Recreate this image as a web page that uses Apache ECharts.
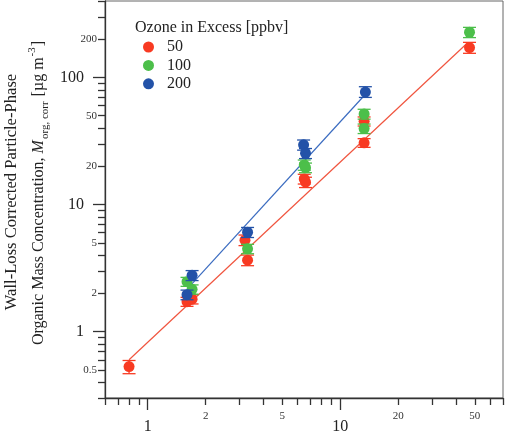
<!DOCTYPE html>
<html lang="en">
<head>
<meta charset="UTF-8">
<title>Morg vs ozone</title>
<script src="https://cdn.jsdelivr.net/npm/echarts@6/dist/echarts.min.js"></script>
<style>
  html, body { margin: 0; padding: 0; background: #fff; }
  #main { width: 523px; height: 446px; }
</style>
</head>
<body>
<div id="main"></div>
<script>
// ozone 50 ppbv
const redX = [0.8, 1.6, 1.7, 3.2, 3.3, 6.5, 6.6, 13.3, 13.3, 46.9];
const redY = [0.53, 1.72, 1.80, 5.24, 3.65, 15.9, 15.0, 30.6, 45.2, 172];
const redLo = [0.466, 1.58, 1.65, 4.75, 3.3, 14.5, 13.6, 28.2, 41.5, 155];
const redHi = [0.592, 1.86, 1.95, 5.75, 4.0, 17.3, 16.4, 33.0, 48.9, 189];
// ozone 100 ppbv
const greenX = [1.6, 1.7, 3.3, 6.5, 6.6, 13.3, 13.3, 46.9];
const greenY = [2.47, 2.15, 4.48, 20.5, 19.5, 51.6, 39.6, 227];
const greenLo = [2.27, 1.97, 4.1, 18.6, 17.8, 47.0, 36.2, 206];
const greenHi = [2.67, 2.33, 4.86, 22.4, 21.2, 56.2, 43.0, 248];
// ozone 200 ppbv
const blueX = [1.6, 1.7, 3.3, 6.45, 6.6, 13.5];
const blueY = [1.95, 2.77, 6.05, 29.5, 25.3, 76.8];
const blueLo = [1.78, 2.52, 5.5, 26.8, 23.0, 69.7];
const blueHi = [2.12, 3.02, 6.6, 32.2, 27.6, 84.6];
// fitted lines (end points)
const redFit = [[0.8, 0.6], [45.6, 186]];
const blueFit = [[1.615, 2.19], [13.4, 72.8]];

const xMinorTicks = [0.6, 0.7, 0.8, 0.9, 2, 3, 4, 5, 6, 7, 8, 9, 20, 30, 40, 50, 60, 70];
const xMinorLabels = [2, 5, 20, 50];
const xMajor = [1, 10];
const yMinorTicks = [0.3, 0.4, 0.5, 0.6, 0.7, 0.8, 0.9, 2, 3, 4, 5, 6, 7, 8, 9,
  20, 30, 40, 50, 60, 70, 80, 90, 200, 300, 400];
const yMinorLabels = [0.5, 2, 5, 20, 50, 200];
const yMajor = [1, 10, 100];

const RED = '#f83a22', GREEN = '#4cbf4a', BLUE = '#2352a8';
const serif = 'Liberation Serif';

function pts(xs, ys) {
  return xs.map(function (x, i) { return [x, ys[i]]; });
}
function errData(xs, lo, hi) {
  return xs.map(function (x, i) { return [x, lo[i], hi[i]]; });
}
function errSeries(xs, lo, hi, color, z) {
  return {
    type: 'custom',
    z: z,
    silent: true,
    data: errData(xs, lo, hi),
    renderItem: function (params, api) {
      const top = api.coord([api.value(0), api.value(2)]);
      const bot = api.coord([api.value(0), api.value(1)]);
      const w = 6.5;
      const st = { stroke: color, lineWidth: 1.3 };
      return {
        type: 'group',
        children: [
          { type: 'line', shape: { x1: top[0], y1: top[1], x2: bot[0], y2: bot[1] }, style: st },
          { type: 'line', shape: { x1: top[0] - w, y1: top[1], x2: top[0] + w, y2: top[1] }, style: st },
          { type: 'line', shape: { x1: bot[0] - w, y1: bot[1], x2: bot[0] + w, y2: bot[1] }, style: st }
        ]
      };
    }
  };
}
function scatter(name, xs, ys, color, z) {
  return {
    name: name, type: 'scatter', z: z, symbol: 'circle', symbolSize: 11,
    itemStyle: { color: color, opacity: 1 },
    data: pts(xs, ys)
  };
}

const axisCommon = { type: 'log', logBase: 10, splitLine: { show: false } };
const lineSt = { color: '#333', width: 1.3 };

const chart = echarts.init(document.getElementById('main'));
chart.setOption({
  animation: false,
  grid: { left: 105, right: 20, top: 1, bottom: 48, show: true, borderColor: '#666', borderWidth: 1 },
  title: {
    text: 'Ozone in Excess [ppbv]', left: 130, top: 15,
    textStyle: { fontFamily: serif, fontSize: 16, fontWeight: 'normal', color: '#222' }
  },
  legend: {
    orient: 'vertical', left: 138, top: 34, itemWidth: 11, itemHeight: 11, itemGap: 2.4,
    icon: 'circle', data: ['50', '100', '200'],
    textStyle: { fontFamily: serif, fontSize: 16, color: '#222', padding: [0, 0, 0, 8] }
  },
  xAxis: [
    Object.assign({}, axisCommon, {
      min: 0.6, max: 70,
      axisLine: { show: true, lineStyle: lineSt },
      axisTick: { show: true, length: 7, lineStyle: lineSt, customValues: xMinorTicks },
      axisLabel: { customValues: xMinorLabels, fontFamily: serif, fontSize: 11, color: '#333', margin: 13 }
    }),
    Object.assign({}, axisCommon, {
      min: 0.6, max: 70, position: 'bottom',
      axisLine: { show: false },
      axisTick: { show: true, length: 12, lineStyle: lineSt, customValues: xMajor },
      axisLabel: { customValues: xMajor, fontFamily: serif, fontSize: 16, color: '#222', margin: 21 }
    })
  ],
  yAxis: [
    Object.assign({}, axisCommon, {
      min: 0.3, max: 400,
      axisLine: { show: true, lineStyle: lineSt },
      axisTick: { show: true, length: 7, lineStyle: lineSt, customValues: yMinorTicks },
      axisLabel: { customValues: yMinorLabels, fontFamily: serif, fontSize: 11, color: '#333', margin: 8 }
    }),
    Object.assign({}, axisCommon, {
      min: 0.3, max: 400, position: 'left',
      axisLine: { show: false },
      axisTick: { show: true, length: 12, lineStyle: lineSt, customValues: yMajor },
      axisLabel: { customValues: yMajor, fontFamily: serif, fontSize: 16, color: '#222', margin: 21 }
    })
  ],
  graphic: [
    {
      type: 'text', rotation: Math.PI / 2,
      x: 12, y: 192,
      style: {
        text: 'Wall-Loss Corrected Particle-Phase',
        font: '16.6px "Liberation Serif"', fill: '#222', align: 'center', verticalAlign: 'middle'
      }
    },
    {
      type: 'text', rotation: Math.PI / 2,
      x: 39, y: 193,
      style: {
        text: 'Organic Mass Concentration, {i|M}{sub|org, corr} [µg m{sup|-3}]',
        font: '16px "Liberation Serif"', fill: '#222', align: 'center', verticalAlign: 'middle',
        lineHeight: 24,
        rich: {
          i: { fontFamily: serif, fontSize: 16, fontStyle: 'italic', fill: '#222', lineHeight: 24 },
          sub: { fontFamily: serif, fontSize: 11, fill: '#222', verticalAlign: 'bottom', lineHeight: 15, padding: [0, 1, 0, 1] },
          sup: { fontFamily: serif, fontSize: 11, fill: '#222', verticalAlign: 'top', lineHeight: 9, padding: [0, 1, 0, 1] }
        }
      }
    }
  ],
  series: [
    { type: 'line', data: redFit, symbol: 'none', z: 1, silent: true, lineStyle: { color: '#f0553f', width: 1.2 } },
    { type: 'line', data: blueFit, symbol: 'none', z: 1, silent: true, lineStyle: { color: '#3b6cc0', width: 1.2 } },
    errSeries(redX, redLo, redHi, RED, 2),
    scatter('50', redX, redY, RED, 3),
    errSeries(greenX, greenLo, greenHi, GREEN, 4),
    scatter('100', greenX, greenY, GREEN, 5),
    errSeries(blueX, blueLo, blueHi, BLUE, 6),
    scatter('200', blueX, blueY, BLUE, 7)
  ]
});
</script>
</body>
</html>
